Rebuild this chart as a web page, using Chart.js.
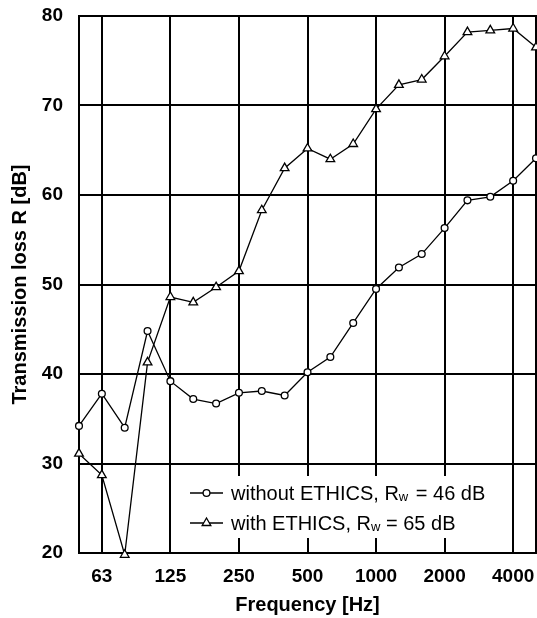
<!DOCTYPE html>
<html>
<head>
<meta charset="utf-8">
<script src="https://cdn.jsdelivr.net/npm/chart.js@4.4.1/dist/chart.umd.min.js"></script>
<style>
  html, body { margin: 0; padding: 0; background: #fff; }
</style>
</head>
<body>
<canvas id="chart" width="537" height="618"></canvas>
<script>
// 1/3 octave band centre frequencies (Hz)
const freqs = ['50', '63', '80', '100', '125', '160', '200', '250', '315', '400', '500',
               '630', '800', '1000', '1250', '1600', '2000', '2500', '3150', '4000', '5000'];
// labelled octave ticks (index into freqs)
const tickIdx = [1, 4, 7, 10, 13, 16, 19];
const yTicks = [20, 30, 40, 50, 60, 70, 80];

// Transmission loss R [dB]
const withoutEthics = [34.2, 37.8, 34.0, 44.8, 39.2, 37.2, 36.7, 37.9, 38.1, 37.6, 40.2,
                       41.9, 45.7, 49.5, 51.9, 53.4, 56.3, 59.4, 59.8, 61.6, 64.1];
const withEthics = [31.1, 28.7, 19.8, 41.3, 48.6, 48.0, 49.7, 51.5, 58.3, 63.0, 65.2,
                    64.0, 65.7, 69.6, 72.3, 72.9, 75.5, 78.2, 78.4, 78.6, 76.5];

const seriesNames = ['without ETHICS', 'with ETHICS'];
const rwValues = [46, 65];

const toPoints = arr => arr.map((v, i) => ({ x: i, y: v }));

// frame around the plot area
const framePlugin = {
  id: 'frame',
  beforeDatasetsDraw(chart) {
    const { ctx, chartArea: a } = chart;
    ctx.save();
    ctx.strokeStyle = '#000';
    ctx.lineWidth = 2;
    ctx.strokeRect(a.left, a.top, a.right - a.left, a.bottom - a.top);
    ctx.restore();
  }
};

// legend with subscript w, drawn inside the plot
const legendPlugin = {
  id: 'rwLegend',
  afterDatasetsDraw(chart) {
    const { ctx } = chart;
    ctx.save();
    ctx.fillStyle = '#fff';
    ctx.fillRect(186, 476, 312, 62);

    const rows = [500, 530];
    chart.data.datasets.forEach((ds, i) => {
      const y = rows[i] - 7;
      ctx.strokeStyle = '#000';
      ctx.lineWidth = 1.3;
      ctx.beginPath();
      ctx.moveTo(190, y);
      ctx.lineTo(223, y);
      ctx.stroke();
      ctx.fillStyle = '#fff';
      Chart.helpers.drawPoint(ctx, {
        pointStyle: ds.pointStyle,
        radius: ds.pointRadius,
        borderWidth: 1.3
      }, 206.5, y);

      ctx.fillStyle = '#000';
      ctx.textBaseline = 'alphabetic';
      ctx.font = '20px "Liberation Sans", Arial, sans-serif';
      let x = 231;
      const main = seriesNames[i] + ', R';
      ctx.fillText(main, x, rows[i]);
      x += ctx.measureText(main).width;
      ctx.font = '13px "Liberation Sans", Arial, sans-serif';
      ctx.fillText('w', x, rows[i] + 1);
      x += ctx.measureText('w').width + (i === 0 ? 2 : 0);
      ctx.font = '20px "Liberation Sans", Arial, sans-serif';
      ctx.fillText(' = ' + rwValues[i] + ' dB', x, rows[i]);
    });
    ctx.restore();
  }
};

const ctx = document.getElementById('chart').getContext('2d');
new Chart(ctx, {
  type: 'line',
  data: {
    datasets: [
      {
        label: seriesNames[0],
        data: toPoints(withoutEthics),
        borderColor: '#000',
        borderWidth: 1.3,
        pointStyle: 'circle',
        pointRadius: 3.4,
        pointBackgroundColor: '#fff',
        pointBorderColor: '#000',
        pointBorderWidth: 1.3,
        tension: 0,
        clip: false
      },
      {
        label: seriesNames[1],
        data: toPoints(withEthics),
        borderColor: '#000',
        borderWidth: 1.3,
        pointStyle: 'triangle',
        pointRadius: 5,
        pointBackgroundColor: '#fff',
        pointBorderColor: '#000',
        pointBorderWidth: 1.3,
        tension: 0,
        clip: false
      }
    ]
  },
  options: {
    responsive: false,
    animation: false,
    // no extra room for the end markers: the plot runs to the right edge
    layout: { autoPadding: false, padding: { top: 16, right: 1, left: 0, bottom: 0 } },
    plugins: {
      legend: { display: false },
      tooltip: { enabled: false }
    },
    scales: {
      x: {
        type: 'linear',
        min: 0,
        max: freqs.length - 1,
        afterBuildTicks: scale => { scale.ticks = tickIdx.map(v => ({ value: v })); },
        afterFit: scale => {
          scale.height = 65;
          scale.paddingLeft = 0;
          scale.paddingRight = 0;
        },
        ticks: {
          autoSkip: false,
          maxRotation: 0,
          padding: 0,
          color: '#000',
          // tall line box pushes the labels down without adding side padding
          font: { family: '"Liberation Sans", Arial, sans-serif', size: 19, weight: 'bold', lineHeight: 2.45 },
          callback: v => freqs[v]
        },
        grid: { color: '#000', lineWidth: 2, drawTicks: false },
        border: { display: false },
        title: {
          display: true,
          text: 'Frequency [Hz]',
          color: '#000',
          padding: { top: 0, bottom: 1 },
          font: { family: '"Liberation Sans", Arial, sans-serif', size: 20, weight: 'bold' }
        }
      },
      y: {
        min: 20,
        max: 80,
        afterBuildTicks: scale => { scale.ticks = yTicks.map(v => ({ value: v })); },
        afterFit: scale => {
          scale.width = 79;
          scale.paddingTop = 0;
          scale.paddingBottom = 0;
        },
        ticks: {
          padding: 16,
          color: '#000',
          font: { family: '"Liberation Sans", Arial, sans-serif', size: 19, weight: 'bold' }
        },
        grid: { color: '#000', lineWidth: 2, drawTicks: false },
        border: { display: false },
        title: {
          display: true,
          text: 'Transmission loss R [dB]',
          color: '#000',
          padding: { top: 8, bottom: 0 },
          font: { family: '"Liberation Sans", Arial, sans-serif', size: 20, weight: 'bold' }
        }
      }
    }
  },
  plugins: [framePlugin, legendPlugin]
});
</script>
</body>
</html>
